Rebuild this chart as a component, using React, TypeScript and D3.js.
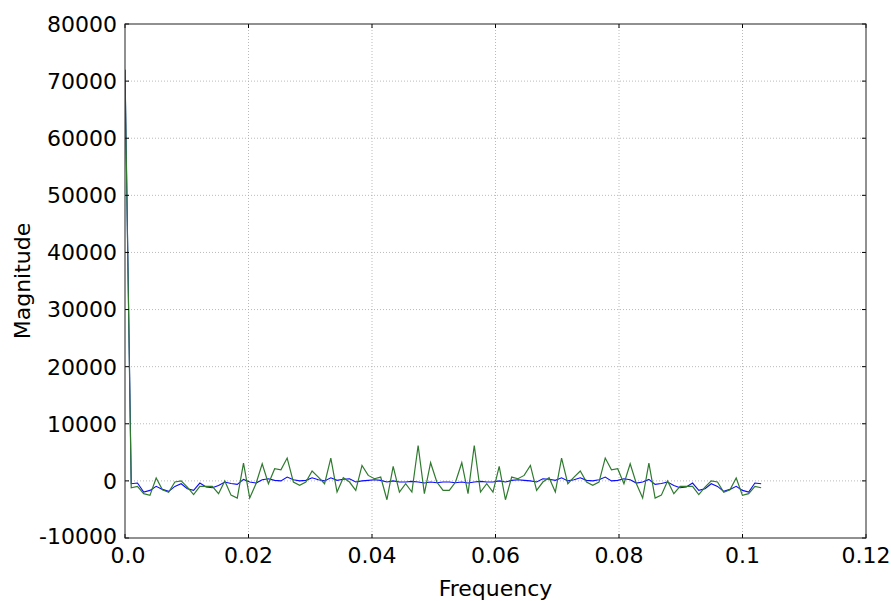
import React from 'react';
import * as d3 from 'd3';

const W = 891;
const H = 601;

const xTicks = [0, 0.02, 0.04, 0.06, 0.08, 0.1, 0.12];
const xTickLabels = ['0.0', '0.02', '0.04', '0.06', '0.08', '0.1', '0.12'];
const yTicks = [-10000, 0, 10000, 20000, 30000, 40000, 50000, 60000, 70000, 80000];
const yTickLabels = ['-10000', '0', '10000', '20000', '30000', '40000', '50000', '60000', '70000', '80000'];

const freqStep = 0.00101;

const greenSeries = [
  72000, -1200, -960, -2240, -2540, 500, -1550, -2000, -200, 0,
  -1080, -2400, -960, -960, -960, -2240, 0, -2500, -3000, 3120,
  -3000, -500, 3000, -500, 2130, 1950, 4000, -200, -790, -200,
  1720, 670, -500, 4000, -1950, 550, -200, -1660, 2710, 960,
  380, 670, -3300, 2540, -1950, -500, -1950, 6200, -2240, 3180,
  -200, -1660, -1660, -200, 3180, -2240, 6200, -1950, -500, -1950,
  2540, -3300, 670, 380, 960, 2710, -1660, -200, 550, -1950,
  4000, -500, 670, 1720, -200, -790, -200, 4000, 1950, 2130,
  -500, 3000, -500, -3000, 3120, -3000, -2500, 0, -2240, -960,
  -960, -960, -2400, -1080, 0, -200, -2000, -1550, 500, -2540,
  -2240, -960, -1200,
];

const blueSeries = [
  72000, -500, -380, -1950, -1660, -960, -1490, -1840, -960, -500,
  -1370, -1660, -380, -1080, -1200, -790, -200, -450, -610, 260,
  -200, -380, 200, 380, 90, 0, 670, 200, 0, 90,
  550, 200, 0, 550, 90, 300, 380, -200, 0, 90,
  200, 90, -200, 0, -200, -200, -90, -200, -380, -200,
  -320, -200, -200, -320, -200, -380, -200, -90, -200, -200,
  0, -200, 90, 200, 90, 0, -200, 380, 300, 90,
  550, 0, 200, 550, 90, 0, 200, 670, 0, 90,
  380, 200, -380, -200, 260, -610, -450, -200, -790, -1200,
  -1080, -380, -1660, -1370, -500, -960, -1840, -1490, -960, -1660,
  -1950, -380, -500,
];

const FONT = "'DejaVu Sans', sans-serif";

export default function App() {
  const left = 125, right = 866, top = 24, bottom = 538;
  const x = d3.scaleLinear().domain([0, 0.12]).range([left, right]);
  const y = d3.scaleLinear().domain([-10000, 80000]).range([bottom, top]);
  const line = d3
    .line<number>()
    .x((_, i) => x(i * freqStep))
    .y((d) => y(d));

  return (
    <svg
      width={W}
      height={H}
      style={{ position: 'absolute', left: 0, top: 0, background: '#fff' }}
      fontFamily={FONT}
    >
      <defs>
        <clipPath id="plot">
          <rect x={left} y={top} width={right - left} height={bottom - top} />
        </clipPath>
      </defs>
      <rect x={0} y={0} width={W} height={H} fill="#fff" />
      {/* grid */}
      {xTicks.slice(1, -1).map((t) => (
        <line key={'gx' + t} x1={x(t)} x2={x(t)} y1={top} y2={bottom} stroke="#a8a8a8" strokeWidth={0.8} strokeDasharray="1,2" />
      ))}
      {yTicks.slice(1, -1).map((t) => (
        <line key={'gy' + t} x1={left} x2={right} y1={y(t)} y2={y(t)} stroke="#a8a8a8" strokeWidth={0.8} strokeDasharray="1,2" />
      ))}
      {/* series */}
      <g clipPath="url(#plot)">
        <path d={line(blueSeries) || ''} fill="none" stroke="#0a0aff" strokeWidth={1.1} />
        <path d={line(greenSeries) || ''} fill="none" stroke="#2f7a2f" strokeWidth={1.2} />
      </g>
      {/* ticks */}
      {xTicks.map((t) => (
        <g key={'tx' + t}>
          <line x1={x(t)} x2={x(t)} y1={bottom} y2={bottom - 4} stroke="#000" />
          <line x1={x(t)} x2={x(t)} y1={top} y2={top + 4} stroke="#000" />
        </g>
      ))}
      {yTicks.map((t) => (
        <g key={'ty' + t}>
          <line x1={left} x2={left + 4} y1={y(t)} y2={y(t)} stroke="#000" />
          <line x1={right} x2={right - 4} y1={y(t)} y2={y(t)} stroke="#000" />
        </g>
      ))}
      {/* frame */}
      <rect x={left} y={top} width={right - left} height={bottom - top} fill="none" stroke="#222" strokeWidth={1} />
      {/* tick labels */}
      {xTicks.map((t, i) => (
        <text key={'lx' + t} x={x(t) + (i === 0 ? 3 : 0)} y={563} textAnchor="middle" fontSize={22} fill="#000">
          {xTickLabels[i]}
        </text>
      ))}
      {yTicks.map((t, i) => (
        <text key={'ly' + t} x={117} y={y(t) - (i === 0 ? 2 : 0)} dy="0.36em" textAnchor="end" fontSize={22} fill="#000">
          {yTickLabels[i]}
        </text>
      ))}
      <text x={(left + right) / 2} y={596} textAnchor="middle" fontSize={22} fill="#000">
        Frequency
      </text>
      <text transform={`translate(30, ${(top + bottom) / 2}) rotate(-90)`} textAnchor="middle" fontSize={22} fill="#000">
        Magnitude
      </text>
    </svg>
  );
}
